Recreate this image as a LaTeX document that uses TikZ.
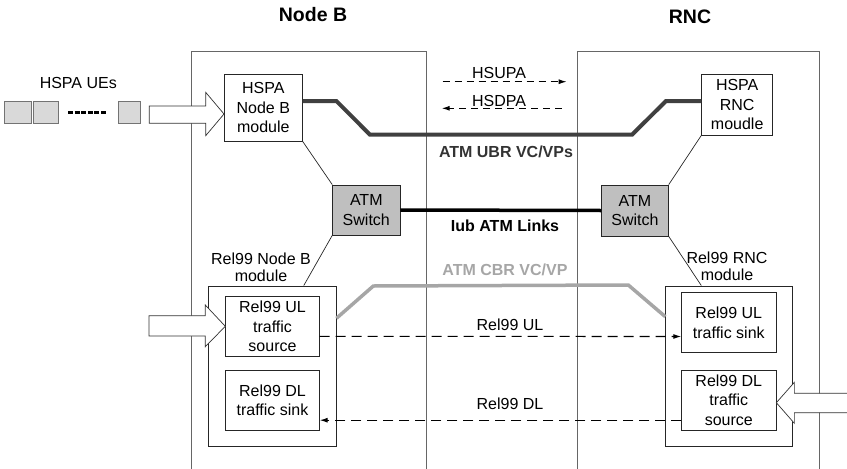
\documentclass[tikz,border=0pt]{standalone}
\usepackage{fontspec}
\setmainfont{Liberation Sans}
\usetikzlibrary{arrows.meta, positioning}

\begin{document}
\begin{tikzpicture}[x=1pt, y=-1pt,
  txt/.style={font=\fontsize{16}{19.5}\selectfont, align=center, inner sep=0pt},
  title/.style={font=\fontsize{19.5}{23}\selectfont\bfseries},
  box/.style={txt, draw=black!85, fill=white, line width=0.8pt},
  switchbox/.style={box, fill=black!25},
  frame/.style={draw=black!60, line width=0.9pt},
  hollow/.style={draw=black!80, fill=white, line width=0.7pt},
  link/.style={draw=black!85, line width=0.7pt},
  flow/.style={line width=1.1pt, dash pattern=on 7pt off 5pt, -{Latex[length=8pt,width=5pt]}},
  relflow/.style={line width=1.1pt, dash pattern=on 10pt off 6pt, -{Latex[length=8pt,width=5pt]}}]
\useasboundingbox (0,0) rectangle (847,469);

% Node B and RNC frames
\draw[frame] (191.5,469) -- (191.5,51.7) -- (426.7,51.7) -- (426.7,469);
\draw[frame] (577.7,469) -- (577.7,51.7) -- (819,51.7) -- (819,469);
\node[title] (nbtitle) at (313,15) {Node B};
\node[title] (rnctitle) at (690,16.5) {RNC};

% UEs
\node[txt] (ues) at (78.3,82.7) {HSPA UEs};
\foreach \a/\b in {4.3/31, 33.3/58.3, 117.7/140}{
  \draw[draw=black!55, fill=black!15] (\a,100.7) rectangle (\b,123.3);
}
\draw[line width=3pt, dash pattern=on 5pt off 1.6pt] (68,112.7) -- (106.7,112.7);

% boxes
\node[box, minimum width=78pt, minimum height=66.7pt] (hnb) at (263.3,107.7) {HSPA\\Node B\\module};
\node[box, minimum width=71pt, minimum height=60.7pt] (hrnc) at (737.2,104.7) {HSPA\\RNC\\moudle};
\node[switchbox, minimum width=67.3pt, minimum height=50pt] (swl) at (366.3,210) {ATM\\Switch};
\node[switchbox, minimum width=66.7pt, minimum height=51pt] (swr) at (635,210.5) {ATM\\Switch};
\node[box, minimum width=127.7pt, minimum height=160.7pt] (relnb) at (272.2,366.3) {};
\node[box, minimum width=126.6pt, minimum height=160.7pt] (relrnc) at (729,366.3) {};
\node[box, minimum width=93.6pt, minimum height=60.7pt] (ulsrc) at (272.5,326.3) {Rel99 UL\\traffic\\source};
\node[box, minimum width=93.6pt, minimum height=60.3pt] (dlsnk) at (272.5,400.2) {Rel99 DL\\traffic sink};
\node[box, minimum width=94.3pt, minimum height=60pt] (ulsnk) at (728.8,322.7) {Rel99 UL\\traffic sink};
\node[box, minimum width=94.3pt, minimum height=60.3pt] (dlsrc) at (728.8,400.2) {Rel99 DL\\traffic\\source};

% labels
\node[txt, font=\fontsize{16}{17}\selectfont] (relnblbl) at (261,267.5) {Rel99 Node B\\module};
\node[txt, font=\fontsize{16}{17}\selectfont] (relrnclbl) at (727,266.5) {Rel99 RNC\\module};
\node[txt] (hsupa) at (499,72.7) {HSUPA};
\node[txt] (hsdpa) at (499,101) {HSDPA};
\node[txt, font=\fontsize{16}{19.5}\selectfont\bfseries, text=black!80] (ubr) at (506,151.7) {ATM UBR VC/VPs};
\node[txt, font=\fontsize{16}{19.5}\selectfont\bfseries] (iub) at (505,225.7) {Iub ATM Links};
\node[txt, font=\fontsize{16}{19.5}\selectfont\bfseries, text=black!35] (cbr) at (505,270) {ATM CBR VC/VP};
\node[txt] (ullbl) at (510,324.3) {Rel99 UL};
\node[txt] (dllbl) at (510,404) {Rel99 DL};

% links between modules and switches
\draw[link] (hnb.south east) -- (swl.north west);
\draw[link] (hrnc.south west) -- (swr.north east);
\draw[link] (swl.south west) -- ([xshift=-32.7pt]relnb.north east);
\draw[link] (swr.south east) -- ([xshift=36pt]relrnc.north west);

% VC/VP and ATM links
\draw[line width=4pt, black!75] ([yshift=6.7pt]hnb.east) -- ++(33.7,0) -- (370,134.7)
  -- (632,134.7) -- (666,101) -- ([yshift=3.7pt]hrnc.west);
\draw[line width=3.5pt] (swl.east) -- (swr.west);
\draw[line width=3.5pt, black!35] ([yshift=48pt]relnb.east) -- (373.3,286) -- (628.3,285)
  -- ([yshift=49.6pt]relrnc.west);

% HSUPA / HSDPA
\coordinate (upA) at (442.7,81.7);
\coordinate (upB) at (566.7,81.7);
\coordinate (dnA) at (561.7,108.3);
\coordinate (dnB) at (441.7,108.3);
\draw[flow] (upA) -- (upB);
\draw[flow] (dnA) -- (dnB);

% Rel99 traffic
\draw[relflow] ([yshift=-10pt]ulsrc.east) -- ([yshift=-13.8pt]ulsnk.west);
\draw[relflow] ([yshift=-20pt]dlsrc.west) -- ([yshift=-20pt]dlsnk.east);

% traffic inputs
\coordinate (ueTip) at (224,114);
\draw[hollow] (ueTip) -- ++(-18.3,-21.7) -- ++(0,13.7) -- ++(-56.4,0) -- ++(0,17.3)
  -- ++(56.4,0) -- ++(0,12.4) -- cycle;
\draw[hollow] (ulsrc.west) -- ++(-20,-21.3) -- ++(0,10.7) -- ++(-56.4,0) -- ++(0,20.3)
  -- ++(56.4,0) -- ++(0,10.7) -- cycle;
\draw[hollow] ([yshift=-2.5pt]dlsrc.east) -- ++(18,-20.4) -- ++(0,11) -- ++(60,0) -- ++(0,19.4)
  -- ++(-60,0) -- ++(0,10.6) -- cycle;
\end{tikzpicture}
\end{document}
